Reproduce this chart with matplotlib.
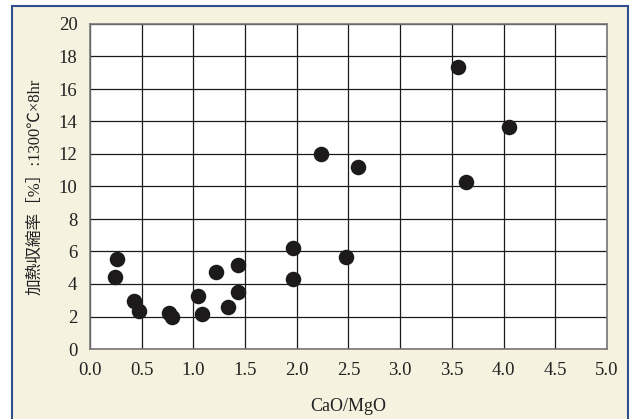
import matplotlib
matplotlib.use("Agg")
import matplotlib.pyplot as plt
from matplotlib.patches import Rectangle

# CaO/MgO ratio vs. heating shrinkage
cao_mgo = [0.24, 0.26, 0.43, 0.47, 0.76, 0.79, 1.04, 1.08, 1.22, 1.33,
           1.43, 1.43, 1.96, 1.96, 2.23, 2.48, 2.59, 3.56, 3.64, 4.05]
shrinkage = [4.43, 5.55, 2.95, 2.35, 2.23, 1.99, 3.26, 2.13, 4.75, 2.6,
             3.52, 5.16, 6.23, 4.28, 12.0, 5.64, 11.17, 17.33, 10.25, 13.66]

x_ticks = [0.0, 0.5, 1.0, 1.5, 2.0, 2.5, 3.0, 3.5, 4.0, 4.5, 5.0]
y_ticks = list(range(0, 21, 2))

serif = ["Liberation Serif", "Noto Sans CJK JP", "DejaVu Sans"]
plt.rcParams["font.family"] = serif

fig = plt.figure(figsize=(6.3, 4.19), dpi=100, facecolor="white")

# cream panel with blue frame
frame = Rectangle((12 / 630, -0.05), (628 - 12) / 630, 1 - 6 / 419 + 0.05,
                  transform=fig.transFigure, facecolor="#f5f2e0",
                  edgecolor="#2d4f8e", linewidth=1.5, zorder=-10)
fig.patches.append(frame)

ax = fig.add_axes([90 / 630, 1 - 349 / 419, (607 - 90) / 630, (349 - 24) / 419])
ax.set_facecolor("white")

ax.scatter(cao_mgo, shrinkage, s=125, color="#1c1a1b", zorder=3, linewidths=0)

ax.set_xlim(0, 5)
ax.set_ylim(0, 20)
ax.set_xticks(x_ticks)
ax.set_xticklabels([f"{v:.1f}" for v in x_ticks])
ax.set_yticks(y_ticks)
ax.grid(True, color="#1a1a1a", linewidth=0.9)
ax.set_axisbelow(True)
for sp in ax.spines.values():
    sp.set_color("#777777")
    sp.set_linewidth(1.2)
ax.tick_params(length=0, labelsize=13.5, colors="#222222")
ax.tick_params(axis="y", pad=9)
ax.tick_params(axis="x", pad=9)

ax.set_xlabel("CaO/MgO", fontsize=13, color="#222222", labelpad=14)
ax.set_ylabel("加熱収縮率［%］:1300℃×8hr", fontsize=12, color="#222222", labelpad=11)

fig.savefig("out.png", dpi=100, facecolor="white")
